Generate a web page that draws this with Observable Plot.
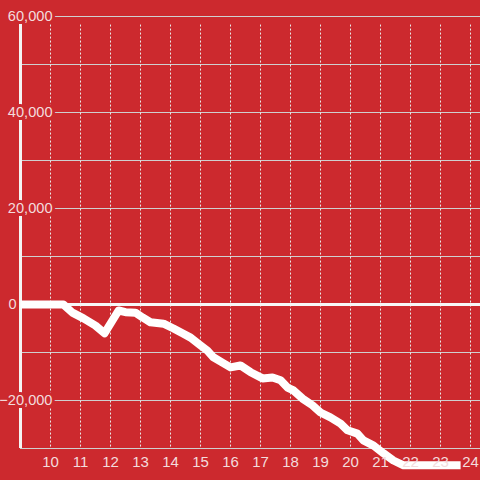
<!DOCTYPE html>
<html>
<head>
<meta charset="utf-8">
<script src="https://cdn.jsdelivr.net/npm/d3@7"></script>
<script src="https://cdn.jsdelivr.net/npm/@observablehq/plot@0.6"></script>
<style>
  html, body { margin: 0; padding: 0; background: #cc292e; }
</style>
</head>
<body>
<div id="chart"></div>
<script>
const hours = [9.0, 10.43, 10.73, 11.1, 11.5, 11.8, 12.27, 12.5, 12.83, 13.07, 13.33, 13.77, 14.1, 14.43, 14.67, 15.0, 15.23, 15.43, 15.73, 16.0, 16.33, 16.67, 17.07, 17.4, 17.67, 17.9, 18.1, 18.4, 18.73, 19.0, 19.33, 19.67, 19.9, 20.23, 20.43, 20.77, 21.1, 21.43, 21.77, 23.67];
const values = [0, 0, -1700, -2900, -4400, -6000, -1250, -1600, -1700, -2700, -3700, -4000, -5000, -6100, -6900, -8500, -9600, -11000, -12100, -13100, -12700, -14100, -15400, -15200, -15800, -17300, -17900, -19600, -21000, -22500, -23500, -24800, -26200, -26900, -28300, -29400, -31000, -32500, -33500, -33500];
const xTicks = [10, 11, 12, 13, 14, 15, 16, 17, 18, 19, 20, 21, 22, 23, 24];
const yTicks = [-20000, 0, 20000, 40000, 60000];
const yGrid = [-30000, -20000, -10000, 10000, 20000, 30000, 40000, 50000, 60000];

const data = hours.map((h, i) => ({hour: h, value: values[i]}));
const bg = "#cc292e";
const labelColor = "#f3dcdd";
const fmt = d3.format(",");

const chart = Plot.plot({
  width: 480,
  height: 480,
  marginTop: 16,
  marginBottom: 32,
  marginLeft: 20,
  marginRight: 0,
  style: {background: bg, fontFamily: "'Liberation Sans', Arial, sans-serif"},
  x: {domain: [9.0, 24.3333], axis: null},
  y: {domain: [-30000, 60000], axis: null},
  marks: [
    Plot.ruleY(yGrid, {stroke: "#cfcfcf", strokeWidth: 1}),
    Plot.ruleX(xTicks, {y1: -29700, y2: 58300, stroke: "#e8e8e8", strokeWidth: 1, strokeDasharray: "2,2"}),
    Plot.ruleX([9.0], {y1: -30000, y2: 60000, stroke: "#f4f4f4", strokeWidth: 3}),
    Plot.ruleY([0], {stroke: "#f7f7f7", strokeWidth: 3}),
    Plot.text(yTicks.filter(d => d !== 0), {y: d => d, text: d => fmt(d), frameAnchor: "left", dx: 32, textAnchor: "end",
      fill: labelColor, stroke: bg, strokeWidth: 6, fontSize: 14.6}),
    Plot.text(yTicks.filter(d => d === 0), {y: d => d, text: d => fmt(d), frameAnchor: "left", dx: -4, textAnchor: "end",
      fill: labelColor, fontSize: 14.6}),
    Plot.line(data, {x: "hour", y: "value", stroke: "#ffffff", strokeWidth: 8, strokeLinejoin: "round", strokeLinecap: "butt", clip: false}),
    Plot.axisX(xTicks, {tickSize: 0, tickPadding: 8, fontSize: 15, color: labelColor, label: null, tickFormat: d => String(d)})
  ]
});
document.getElementById("chart").appendChild(chart);
</script>
</body>
</html>
